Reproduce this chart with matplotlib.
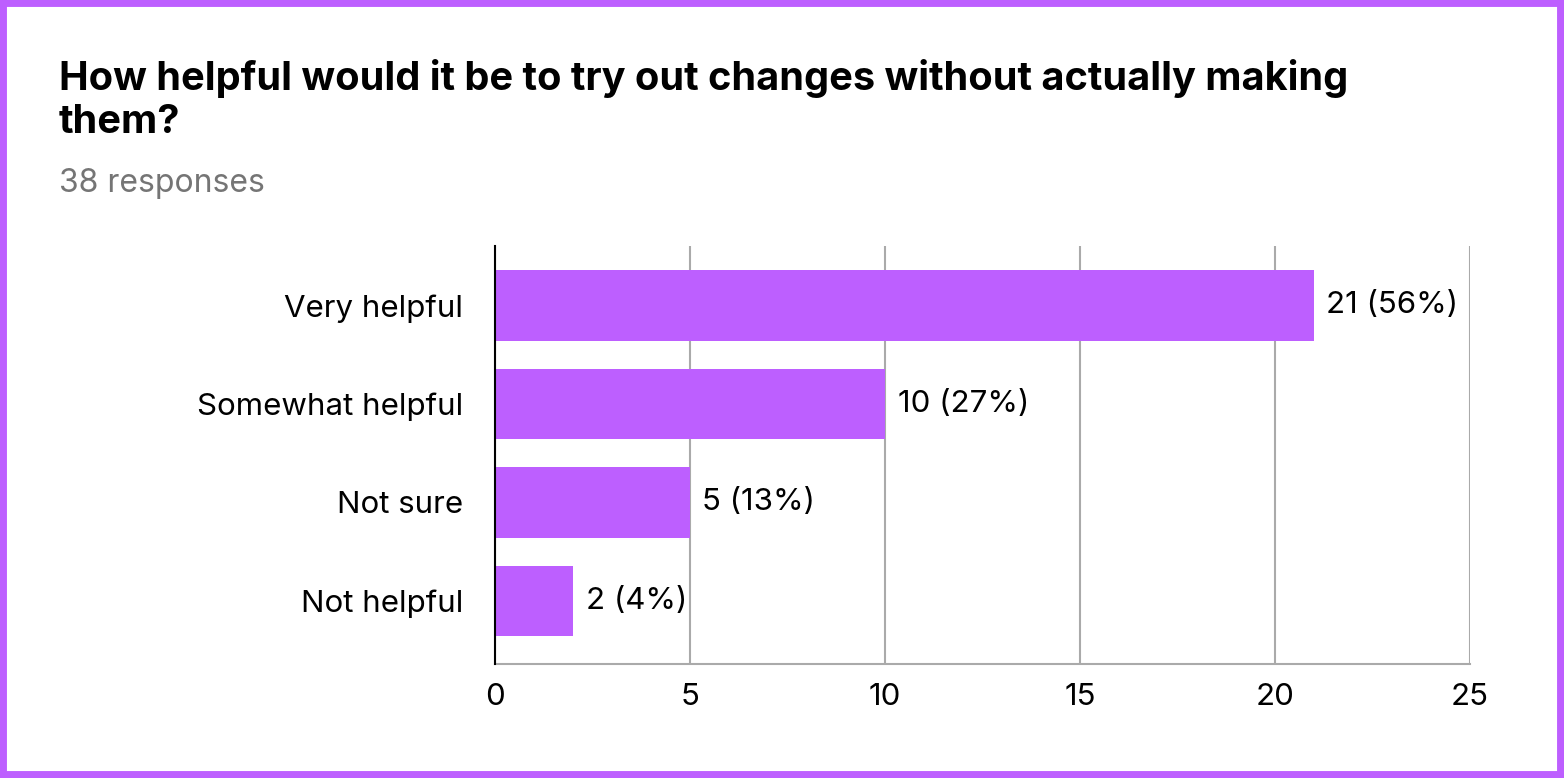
import matplotlib
matplotlib.use("Agg")
import matplotlib.pyplot as plt
from matplotlib.patches import Rectangle

plt.rcParams['font.family'] = ['Inter', 'DejaVu Sans']

categories = ["Very helpful", "Somewhat helpful", "Not sure", "Not helpful"]
counts = [21, 10, 5, 2]
percents = [56, 27, 13, 4]
xticks = [0, 5, 10, 15, 20, 25]
title = "How helpful would it be to try out changes without actually making\nthem?"
subtitle = "38 responses"

PURPLE = "#bd5fff"
W, H = 1564, 778
fig = plt.figure(figsize=(W / 100, H / 100), dpi=100)
fig.patch.set_facecolor("white")

# border
fig.add_artist(Rectangle((0, 0), 1, 1, transform=fig.transFigure, fill=False,
                         edgecolor=PURPLE, linewidth=10, zorder=10))

for line, base in zip(title.split("\n"), [90, 133]):
    fig.text(59 / W, 1 - base / H, line, fontsize=28.6, fontweight="bold", color="black",
             va="baseline", ha="left")
fig.text(59 / W, 1 - 192 / H, subtitle, fontsize=23, color="#757575", va="baseline", ha="left")

left, right, top, bottom = 495, 1470, 246, 664
ax = fig.add_axes([left / W, 1 - bottom / H, (right - left) / W, (bottom - top) / H])

ypos = list(range(len(categories)))
ax.barh(ypos, counts, height=0.72, color=PURPLE, zorder=3)
for y, c, p in zip(ypos, counts, percents):
    ax.annotate(f"{c} ({p}%)", xy=(c, y), xytext=(9, 0), textcoords="offset points",
                va="center", ha="left", fontsize=22.5, color="black")

ax.set_xlim(0, 25)
ax.set_ylim(3.64, -0.604)
ax.set_xticks(xticks)
ax.set_xticklabels([str(t) for t in xticks])
ax.set_yticks(ypos)
ax.set_yticklabels(categories)
ax.tick_params(axis="both", length=0, labelsize=22.5, colors="black")
ax.tick_params(axis="y", pad=23)
ax.tick_params(axis="x", pad=14)
ax.grid(axis="x", color="#aaaaaa", linewidth=1.5, zorder=0)
ax.spines["top"].set_visible(False)
ax.spines["right"].set_visible(False)
ax.spines["bottom"].set_color("#aaaaaa")
ax.spines["bottom"].set_linewidth(1.5)
ax.spines["left"].set_color("black")
ax.spines["left"].set_linewidth(1.5)
ax.spines["left"].set_zorder(4)

fig.savefig("out.png", dpi=100, facecolor="white")
